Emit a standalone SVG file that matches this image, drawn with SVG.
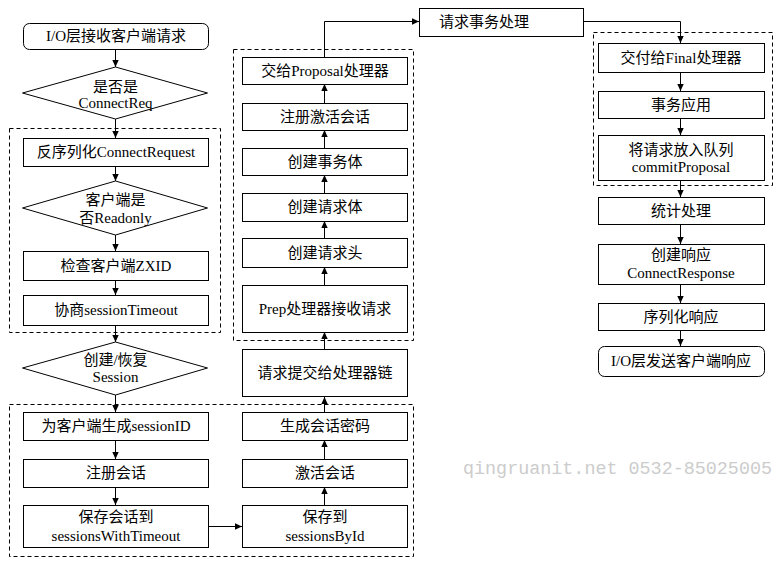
<svg xmlns="http://www.w3.org/2000/svg" width="784" height="565" viewBox="0 0 784 565">
<defs>
<marker id="ah" markerWidth="8" markerHeight="8" refX="7" refY="4" orient="auto" markerUnits="userSpaceOnUse">
<path d="M0,0.8 L7,4 L0,7.2 Z" fill="#000"/>
</marker>
<style>
.b{fill:#fff;stroke:#000;stroke-width:1}
.d{fill:none;stroke:#000;stroke-width:1;stroke-dasharray:4 3}
.c{fill:none;stroke:#000;stroke-width:1;marker-end:url(#ah)}
text{font-family:"Liberation Serif","Noto Sans CJK SC",serif;font-size:15px;fill:#000;text-anchor:middle}
.wm{font-family:"Liberation Mono","DejaVu Sans Mono",monospace;font-size:18.4px;fill:#cccccc;text-anchor:start}
</style>
</defs>
<rect width="784" height="565" fill="#fff"/>
<g id="groups">
<rect class="d" x="9.5" y="128.5" width="211" height="204"/>
<rect class="d" x="9.5" y="404.5" width="404" height="152"/>
<rect class="d" x="233.5" y="49.5" width="180" height="291"/>
<rect class="d" x="593.5" y="32.5" width="179" height="153"/>
</g>
<g id="connectors">
<path class="c" d="M115.5,49 V67"/>
<path class="c" d="M115.5,119 V138"/>
<path class="c" d="M115.5,166 V181"/>
<path class="c" d="M115.5,235 V251"/>
<path class="c" d="M115.5,280 V295"/>
<path class="c" d="M115.5,325 V342"/>
<path class="c" d="M115.5,395 V412"/>
<path class="c" d="M115.5,440 V459"/>
<path class="c" d="M115.5,487 V505"/>
<path class="c" d="M208,526.5 H242"/>
<path class="c" d="M324.5,505 V487"/>
<path class="c" d="M324.5,459 V440"/>
<path class="c" d="M324.5,412 V397"/>
<path class="c" d="M324.5,349 V332"/>
<path class="c" d="M324.5,285 V267"/>
<path class="c" d="M324.5,238 V221"/>
<path class="c" d="M324.5,193 V175"/>
<path class="c" d="M324.5,148 V130"/>
<path class="c" d="M324.5,103 V84"/>
<path class="c" d="M324.5,57 V21.5 H419"/>
<path class="c" d="M583,21.5 H680.5 V43"/>
<path class="c" d="M680.5,72 V91"/>
<path class="c" d="M680.5,118 V135"/>
<path class="c" d="M680.5,180 V197"/>
<path class="c" d="M680.5,224 V244"/>
<path class="c" d="M680.5,284 V303"/>
<path class="c" d="M680.5,330 V346"/>
</g>
<g id="n1"><rect class="b" x="23.5" y="23.5" width="185" height="26" rx="6"/><text x="116" y="41">I/O层接收客户端请求</text></g>
<g id="n2"><polygon class="b" points="115.5,67 207.5,93 115.5,119 22.5,93"/><text x="115.5" y="92">是否是</text><text x="115.5" y="108">ConnectReq</text></g>
<g id="n3"><rect class="b" x="23.5" y="138.5" width="185" height="28"/><text x="116" y="157">反序列化ConnectRequest</text></g>
<g id="n4"><polygon class="b" points="115.5,181 207.5,208 115.5,235 22.5,208"/><text x="115.5" y="205">客户端是</text><text x="115.5" y="223">否Readonly</text></g>
<g id="n5"><rect class="b" x="23.5" y="251.5" width="185" height="29"/><text x="116" y="271">检查客户端ZXID</text></g>
<g id="n6"><rect class="b" x="23.5" y="295.5" width="185" height="30"/><text x="116" y="315">协商sessionTimeout</text></g>
<g id="n7"><polygon class="b" points="115.5,342 207.5,368 115.5,395 22.5,368"/><text x="115.5" y="365">创建/恢复</text><text x="115.5" y="382">Session</text></g>
<g id="n8"><rect class="b" x="23.5" y="412.5" width="185" height="28"/><text x="116" y="431">为客户端生成sessionID</text></g>
<g id="n9"><rect class="b" x="23.5" y="459.5" width="185" height="28"/><text x="116" y="478">注册会话</text></g>
<g id="n10"><rect class="b" x="23.5" y="505.5" width="185" height="42"/><text x="116" y="522">保存会话到</text><text x="116" y="541">sessionsWithTimeout</text></g>
<g id="n11"><rect class="b" x="242.5" y="505.5" width="165" height="42"/><text x="325" y="522">保存到</text><text x="325" y="541">sessionsById</text></g>
<g id="n12"><rect class="b" x="242.5" y="459.5" width="165" height="28"/><text x="325" y="478">激活会话</text></g>
<g id="n13"><rect class="b" x="242.5" y="412.5" width="165" height="28"/><text x="325" y="431">生成会话密码</text></g>
<g id="n14"><rect class="b" x="242.5" y="349.5" width="165" height="47"/><text x="325" y="378">请求提交给处理器链</text></g>
<g id="n15"><rect class="b" x="242.5" y="285.5" width="165" height="47"/><text x="325" y="314">Prep处理器接收请求</text></g>
<g id="n16"><rect class="b" x="242.5" y="238.5" width="165" height="29"/><text x="325" y="258">创建请求头</text></g>
<g id="n17"><rect class="b" x="242.5" y="193.5" width="165" height="28"/><text x="325" y="212">创建请求体</text></g>
<g id="n18"><rect class="b" x="242.5" y="148.5" width="165" height="27"/><text x="325" y="167">创建事务体</text></g>
<g id="n19"><rect class="b" x="242.5" y="103.5" width="165" height="27"/><text x="325" y="122">注册激活会话</text></g>
<g id="n20"><rect class="b" x="242.5" y="57.5" width="165" height="27"/><text x="325" y="76">交给Proposal处理器</text></g>
<g id="n21"><rect class="b" x="419.5" y="8.5" width="164" height="28"/><text x="484" y="27">请求事务处理</text></g>
<g id="n22"><rect class="b" x="598.5" y="43.5" width="166" height="29"/><text x="681" y="63">交付给Final处理器</text></g>
<g id="n23"><rect class="b" x="598.5" y="91.5" width="166" height="27"/><text x="681" y="110">事务应用</text></g>
<g id="n24"><rect class="b" x="598.5" y="135.5" width="166" height="45"/><text x="681" y="155">将请求放入队列</text><text x="681" y="172">commitProposal</text></g>
<g id="n25"><rect class="b" x="598.5" y="197.5" width="166" height="27"/><text x="681" y="216">统计处理</text></g>
<g id="n26"><rect class="b" x="598.5" y="244.5" width="166" height="40"/><text x="681" y="260">创建响应</text><text x="681" y="278">ConnectResponse</text></g>
<g id="n27"><rect class="b" x="598.5" y="303.5" width="166" height="27"/><text x="681" y="322">序列化响应</text></g>
<g id="n28"><rect class="b" x="598.5" y="346.5" width="166" height="30" rx="6"/><text x="681" y="366">I/O层发送客户端响应</text></g>
<text class="wm" x="463" y="474">qingruanit.net 0532-85025005</text>
</svg>
